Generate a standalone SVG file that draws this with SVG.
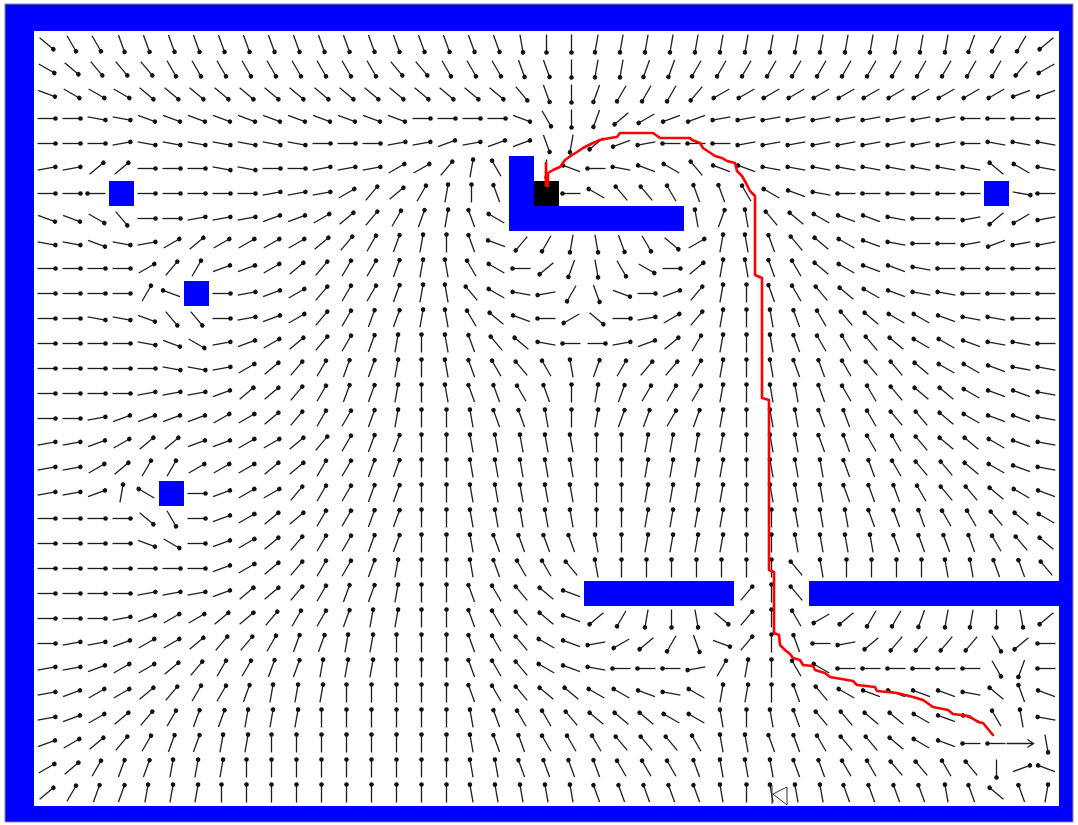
<svg xmlns="http://www.w3.org/2000/svg" width="1078" height="825" viewBox="0 0 1078 825">
<style>
.ob{fill:#0000ff}
.rp{fill:none;stroke:#ff0000;stroke-width:2.6;stroke-linejoin:round;stroke-linecap:round}
</style>
<defs>
<g id="v"><path d="M-9 0H9" stroke="#1e1e1e" stroke-width="1.3"/><circle cx="9" r="2.3" fill="#111"/></g>
<use id="a0" href="#v"/><use id="a1" href="#v" transform="rotate(10)"/><use id="a2" href="#v" transform="rotate(20)"/><use id="a3" href="#v" transform="rotate(30)"/><use id="a4" href="#v" transform="rotate(40)"/><use id="a5" href="#v" transform="rotate(50)"/><use id="a6" href="#v" transform="rotate(60)"/><use id="a7" href="#v" transform="rotate(70)"/><use id="a8" href="#v" transform="rotate(80)"/><use id="a9" href="#v" transform="rotate(90)"/><use id="a10" href="#v" transform="rotate(100)"/><use id="a11" href="#v" transform="rotate(110)"/><use id="a12" href="#v" transform="rotate(120)"/><use id="a13" href="#v" transform="rotate(130)"/><use id="a14" href="#v" transform="rotate(140)"/><use id="a15" href="#v" transform="rotate(150)"/><use id="a16" href="#v" transform="rotate(160)"/><use id="a17" href="#v" transform="rotate(170)"/><use id="a18" href="#v" transform="rotate(180)"/><use id="a19" href="#v" transform="rotate(190)"/><use id="a20" href="#v" transform="rotate(200)"/><use id="a21" href="#v" transform="rotate(210)"/><use id="a22" href="#v" transform="rotate(220)"/><use id="a23" href="#v" transform="rotate(230)"/><use id="a24" href="#v" transform="rotate(240)"/><use id="a25" href="#v" transform="rotate(250)"/><use id="a26" href="#v" transform="rotate(260)"/><use id="a27" href="#v" transform="rotate(270)"/><use id="a28" href="#v" transform="rotate(280)"/><use id="a29" href="#v" transform="rotate(290)"/><use id="a30" href="#v" transform="rotate(300)"/><use id="a31" href="#v" transform="rotate(310)"/><use id="a32" href="#v" transform="rotate(320)"/><use id="a33" href="#v" transform="rotate(330)"/><use id="a34" href="#v" transform="rotate(340)"/><use id="a35" href="#v" transform="rotate(350)"/>
</defs>
<rect width="1078" height="825" fill="#fff"/>
<rect x="5" y="4" width="1068" height="818" fill="#0000ff" stroke="#8a8a8a" stroke-width="1"/>
<rect x="34" y="31" width="1025" height="775" fill="#fff"/>
<g id="field">
<g transform="translate(.5 43.5)"><use href="#a4" x="46"/><use href="#a6" x="71"/><use href="#a6" x="96"/><use href="#a7" x="121"/><use href="#a7" x="146"/><use href="#a7" x="171"/><use href="#a7" x="196"/><use href="#a7" x="221"/><use href="#a7" x="246"/><use href="#a7" x="271"/><use href="#a7" x="296"/><use href="#a7" x="321"/><use href="#a7" x="346"/><use href="#a7" x="371"/><use href="#a7" x="396"/><use href="#a7" x="421"/><use href="#a7" x="446"/><use href="#a7" x="471"/><use href="#a7" x="496"/><use href="#a8" x="521"/><use href="#a9" x="546"/><use href="#a9" x="571"/><use href="#a10" x="596"/><use href="#a10" x="621"/><use href="#a10" x="646"/><use href="#a10" x="671"/><use href="#a10" x="696"/><use href="#a10" x="721"/><use href="#a10" x="746"/><use href="#a10" x="771"/><use href="#a10" x="796"/><use href="#a10" x="821"/><use href="#a10" x="846"/><use href="#a10" x="871"/><use href="#a10" x="896"/><use href="#a10" x="921"/><use href="#a10" x="946"/><use href="#a11" x="971"/><use href="#a12" x="996"/><use href="#a12" x="1021"/><use href="#a14" x="1046"/></g>
<g transform="translate(.5 68.5)"><use href="#a3" x="46"/><use href="#a4" x="71"/><use href="#a5" x="96"/><use href="#a5" x="121"/><use href="#a5" x="146"/><use href="#a6" x="171"/><use href="#a6" x="196"/><use href="#a6" x="221"/><use href="#a6" x="246"/><use href="#a6" x="271"/><use href="#a6" x="296"/><use href="#a6" x="321"/><use href="#a6" x="346"/><use href="#a6" x="371"/><use href="#a5" x="396"/><use href="#a5" x="421"/><use href="#a6" x="446"/><use href="#a6" x="471"/><use href="#a6" x="496"/><use href="#a7" x="521"/><use href="#a7" x="546"/><use href="#a9" x="571"/><use href="#a10" x="596"/><use href="#a10" x="621"/><use href="#a11" x="646"/><use href="#a11" x="671"/><use href="#a12" x="696"/><use href="#a12" x="721"/><use href="#a12" x="746"/><use href="#a12" x="771"/><use href="#a12" x="796"/><use href="#a12" x="821"/><use href="#a12" x="846"/><use href="#a12" x="871"/><use href="#a12" x="896"/><use href="#a12" x="921"/><use href="#a12" x="946"/><use href="#a12" x="971"/><use href="#a12" x="996"/><use href="#a13" x="1021"/><use href="#a15" x="1046"/></g>
<g transform="translate(.5 93.5)"><use href="#a2" x="46"/><use href="#a3" x="71"/><use href="#a3" x="96"/><use href="#a3" x="121"/><use href="#a4" x="146"/><use href="#a4" x="171"/><use href="#a4" x="196"/><use href="#a4" x="221"/><use href="#a4" x="246"/><use href="#a4" x="271"/><use href="#a4" x="296"/><use href="#a4" x="321"/><use href="#a4" x="346"/><use href="#a4" x="371"/><use href="#a4" x="396"/><use href="#a4" x="421"/><use href="#a4" x="446"/><use href="#a4" x="471"/><use href="#a4" x="496"/><use href="#a5" x="521"/><use href="#a7" x="546"/><use href="#a9" x="571"/><use href="#a11" x="596"/><use href="#a12" x="621"/><use href="#a12" x="646"/><use href="#a12" x="671"/><use href="#a13" x="696"/><use href="#a15" x="721"/><use href="#a15" x="746"/><use href="#a15" x="771"/><use href="#a15" x="796"/><use href="#a15" x="821"/><use href="#a15" x="846"/><use href="#a15" x="871"/><use href="#a15" x="896"/><use href="#a15" x="921"/><use href="#a15" x="946"/><use href="#a15" x="971"/><use href="#a15" x="996"/><use href="#a16" x="1021"/><use href="#a16" x="1046"/></g>
<g transform="translate(.5 118.5)"><use href="#a0" x="46"/><use href="#a0" x="71"/><use href="#a1" x="96"/><use href="#a1" x="121"/><use href="#a2" x="146"/><use href="#a2" x="171"/><use href="#a2" x="196"/><use href="#a2" x="221"/><use href="#a2" x="246"/><use href="#a2" x="271"/><use href="#a2" x="296"/><use href="#a2" x="321"/><use href="#a2" x="346"/><use href="#a2" x="371"/><use href="#a2" x="396"/><use href="#a0" x="421"/><use href="#a0" x="446"/><use href="#a0" x="471"/><use href="#a0" x="496"/><use href="#a2" x="521"/><use href="#a6" x="546"/><use href="#a9" x="571"/><use href="#a11" x="596"/><use href="#a14" x="621"/><use href="#a15" x="646"/><use href="#a16" x="671"/><use href="#a16" x="696"/><use href="#a17" x="721"/><use href="#a17" x="746"/><use href="#a17" x="771"/><use href="#a17" x="796"/><use href="#a17" x="821"/><use href="#a17" x="846"/><use href="#a17" x="871"/><use href="#a17" x="896"/><use href="#a17" x="921"/><use href="#a17" x="946"/><use href="#a18" x="971"/><use href="#a18" x="996"/><use href="#a18" x="1021"/><use href="#a18" x="1046"/></g>
<g transform="translate(.5 143.5)"><use href="#a0" x="46"/><use href="#a0" x="71"/><use href="#a0" x="96"/><use href="#a35" x="121"/><use href="#a1" x="146"/><use href="#a1" x="171"/><use href="#a1" x="196"/><use href="#a1" x="221"/><use href="#a1" x="246"/><use href="#a1" x="271"/><use href="#a1" x="296"/><use href="#a0" x="321"/><use href="#a0" x="346"/><use href="#a0" x="371"/><use href="#a35" x="396"/><use href="#a35" x="421"/><use href="#a34" x="446"/><use href="#a35" x="471"/><use href="#a34" x="496"/><use href="#a34" x="521"/><use href="#a7" x="546"/><use href="#a10" x="571"/><use href="#a14" x="596"/><use href="#a16" x="621"/><use href="#a17" x="646"/><use href="#a18" x="671"/><use href="#a18" x="696"/><use href="#a18" x="721"/><use href="#a17" x="746"/><use href="#a17" x="771"/><use href="#a17" x="796"/><use href="#a17" x="821"/><use href="#a17" x="846"/><use href="#a17" x="871"/><use href="#a17" x="896"/><use href="#a17" x="921"/><use href="#a17" x="946"/><use href="#a18" x="971"/><use href="#a19" x="996"/><use href="#a19" x="1021"/><use href="#a19" x="1046"/></g>
<g transform="translate(.5 168.5)"><use href="#a35" x="46"/><use href="#a35" x="71"/><use href="#a32" x="96"/><use href="#a32" x="121"/><use href="#a0" x="146"/><use href="#a0" x="171"/><use href="#a0" x="196"/><use href="#a1" x="221"/><use href="#a1" x="246"/><use href="#a0" x="271"/><use href="#a0" x="296"/><use href="#a35" x="321"/><use href="#a35" x="346"/><use href="#a35" x="371"/><use href="#a33" x="396"/><use href="#a33" x="421"/><use href="#a31" x="446"/><use href="#a28" x="471"/><use href="#a24" x="496"/><use href="#a9" x="546"/><use href="#a20" x="571"/><use href="#a18" x="596"/><use href="#a19" x="621"/><use href="#a20" x="646"/><use href="#a21" x="671"/><use href="#a23" x="696"/><use href="#a20" x="721"/><use href="#a20" x="746"/><use href="#a19" x="771"/><use href="#a19" x="796"/><use href="#a19" x="821"/><use href="#a19" x="846"/><use href="#a19" x="871"/><use href="#a19" x="896"/><use href="#a19" x="921"/><use href="#a19" x="946"/><use href="#a19" x="971"/><use href="#a22" x="996"/><use href="#a21" x="1021"/><use href="#a19" x="1046"/></g>
<g transform="translate(.5 193.5)"><use href="#a0" x="46"/><use href="#a0" x="71"/><use href="#a18" x="96"/><use href="#a0" x="146"/><use href="#a0" x="171"/><use href="#a0" x="196"/><use href="#a0" x="221"/><use href="#a0" x="246"/><use href="#a35" x="271"/><use href="#a35" x="296"/><use href="#a35" x="321"/><use href="#a33" x="346"/><use href="#a31" x="371"/><use href="#a32" x="396"/><use href="#a30" x="421"/><use href="#a28" x="446"/><use href="#a27" x="471"/><use href="#a25" x="496"/><use href="#a18" x="571"/><use href="#a21" x="596"/><use href="#a23" x="621"/><use href="#a23" x="646"/><use href="#a24" x="671"/><use href="#a25" x="696"/><use href="#a25" x="721"/><use href="#a24" x="746"/><use href="#a21" x="771"/><use href="#a20" x="796"/><use href="#a19" x="821"/><use href="#a18" x="846"/><use href="#a18" x="871"/><use href="#a18" x="896"/><use href="#a18" x="921"/><use href="#a18" x="946"/><use href="#a18" x="971"/><use href="#a1" x="1021"/><use href="#a18" x="1046"/></g>
<g transform="translate(.5 218.5)"><use href="#a2" x="46"/><use href="#a2" x="71"/><use href="#a3" x="96"/><use href="#a5" x="121"/><use href="#a0" x="146"/><use href="#a0" x="171"/><use href="#a35" x="196"/><use href="#a35" x="221"/><use href="#a35" x="246"/><use href="#a34" x="271"/><use href="#a34" x="296"/><use href="#a33" x="321"/><use href="#a32" x="346"/><use href="#a31" x="371"/><use href="#a30" x="396"/><use href="#a29" x="421"/><use href="#a28" x="446"/><use href="#a25" x="471"/><use href="#a21" x="496"/><use href="#a26" x="696"/><use href="#a29" x="721"/><use href="#a26" x="746"/><use href="#a23" x="771"/><use href="#a22" x="796"/><use href="#a21" x="821"/><use href="#a20" x="846"/><use href="#a20" x="871"/><use href="#a19" x="896"/><use href="#a18" x="921"/><use href="#a18" x="946"/><use href="#a17" x="971"/><use href="#a14" x="996"/><use href="#a15" x="1021"/><use href="#a17" x="1046"/></g>
<g transform="translate(.5 243.5)"><use href="#a1" x="46"/><use href="#a1" x="71"/><use href="#a2" x="96"/><use href="#a1" x="121"/><use href="#a35" x="146"/><use href="#a33" x="171"/><use href="#a32" x="196"/><use href="#a33" x="221"/><use href="#a33" x="246"/><use href="#a33" x="271"/><use href="#a33" x="296"/><use href="#a32" x="321"/><use href="#a31" x="346"/><use href="#a30" x="371"/><use href="#a29" x="396"/><use href="#a28" x="421"/><use href="#a27" x="446"/><use href="#a25" x="471"/><use href="#a20" x="496"/><use href="#a13" x="521"/><use href="#a12" x="546"/><use href="#a10" x="571"/><use href="#a8" x="596"/><use href="#a7" x="621"/><use href="#a6" x="646"/><use href="#a4" x="671"/><use href="#a33" x="696"/><use href="#a28" x="721"/><use href="#a26" x="746"/><use href="#a25" x="771"/><use href="#a23" x="796"/><use href="#a22" x="821"/><use href="#a21" x="846"/><use href="#a20" x="871"/><use href="#a19" x="896"/><use href="#a18" x="921"/><use href="#a18" x="946"/><use href="#a17" x="971"/><use href="#a16" x="996"/><use href="#a17" x="1021"/><use href="#a17" x="1046"/></g>
<g transform="translate(.5 268.5)"><use href="#a0" x="46"/><use href="#a0" x="71"/><use href="#a0" x="96"/><use href="#a0" x="121"/><use href="#a33" x="146"/><use href="#a31" x="171"/><use href="#a30" x="196"/><use href="#a34" x="221"/><use href="#a34" x="246"/><use href="#a33" x="271"/><use href="#a32" x="296"/><use href="#a31" x="321"/><use href="#a30" x="346"/><use href="#a30" x="371"/><use href="#a29" x="396"/><use href="#a28" x="421"/><use href="#a26" x="446"/><use href="#a24" x="471"/><use href="#a21" x="496"/><use href="#a18" x="521"/><use href="#a14" x="546"/><use href="#a11" x="571"/><use href="#a8" x="596"/><use href="#a6" x="621"/><use href="#a3" x="646"/><use href="#a0" x="671"/><use href="#a32" x="696"/><use href="#a28" x="721"/><use href="#a26" x="746"/><use href="#a25" x="771"/><use href="#a24" x="796"/><use href="#a22" x="821"/><use href="#a21" x="846"/><use href="#a20" x="871"/><use href="#a20" x="896"/><use href="#a19" x="921"/><use href="#a18" x="946"/><use href="#a18" x="971"/><use href="#a18" x="996"/><use href="#a18" x="1021"/><use href="#a18" x="1046"/></g>
<g transform="translate(.5 293.5)"><use href="#a0" x="46"/><use href="#a0" x="71"/><use href="#a0" x="96"/><use href="#a0" x="121"/><use href="#a30" x="146"/><use href="#a20" x="171"/><use href="#a0" x="221"/><use href="#a35" x="246"/><use href="#a34" x="271"/><use href="#a33" x="296"/><use href="#a31" x="321"/><use href="#a30" x="346"/><use href="#a30" x="371"/><use href="#a29" x="396"/><use href="#a28" x="421"/><use href="#a26" x="446"/><use href="#a23" x="471"/><use href="#a21" x="496"/><use href="#a19" x="521"/><use href="#a17" x="546"/><use href="#a12" x="571"/><use href="#a7" x="596"/><use href="#a2" x="621"/><use href="#a0" x="646"/><use href="#a34" x="671"/><use href="#a31" x="696"/><use href="#a28" x="721"/><use href="#a27" x="746"/><use href="#a25" x="771"/><use href="#a24" x="796"/><use href="#a23" x="821"/><use href="#a22" x="846"/><use href="#a21" x="871"/><use href="#a20" x="896"/><use href="#a19" x="921"/><use href="#a19" x="946"/><use href="#a18" x="971"/><use href="#a18" x="996"/><use href="#a18" x="1021"/><use href="#a18" x="1046"/></g>
<g transform="translate(.5 318.5)"><use href="#a0" x="46"/><use href="#a0" x="71"/><use href="#a1" x="96"/><use href="#a1" x="121"/><use href="#a2" x="146"/><use href="#a5" x="171"/><use href="#a5" x="196"/><use href="#a0" x="221"/><use href="#a35" x="246"/><use href="#a34" x="271"/><use href="#a33" x="296"/><use href="#a31" x="321"/><use href="#a30" x="346"/><use href="#a29" x="371"/><use href="#a29" x="396"/><use href="#a28" x="421"/><use href="#a26" x="446"/><use href="#a24" x="471"/><use href="#a22" x="496"/><use href="#a20" x="521"/><use href="#a18" x="546"/><use href="#a15" x="571"/><use href="#a4" x="596"/><use href="#a0" x="621"/><use href="#a35" x="646"/><use href="#a33" x="671"/><use href="#a31" x="696"/><use href="#a28" x="721"/><use href="#a27" x="746"/><use href="#a26" x="771"/><use href="#a25" x="796"/><use href="#a24" x="821"/><use href="#a23" x="846"/><use href="#a22" x="871"/><use href="#a21" x="896"/><use href="#a21" x="921"/><use href="#a20" x="946"/><use href="#a19" x="971"/><use href="#a19" x="996"/><use href="#a18" x="1021"/><use href="#a18" x="1046"/></g>
<g transform="translate(.5 343.5)"><use href="#a0" x="46"/><use href="#a0" x="71"/><use href="#a0" x="96"/><use href="#a0" x="121"/><use href="#a1" x="146"/><use href="#a2" x="171"/><use href="#a3" x="196"/><use href="#a35" x="221"/><use href="#a34" x="246"/><use href="#a33" x="271"/><use href="#a32" x="296"/><use href="#a31" x="321"/><use href="#a30" x="346"/><use href="#a29" x="371"/><use href="#a28" x="396"/><use href="#a27" x="421"/><use href="#a26" x="446"/><use href="#a25" x="471"/><use href="#a23" x="496"/><use href="#a22" x="521"/><use href="#a19" x="546"/><use href="#a18" x="571"/><use href="#a0" x="596"/><use href="#a35" x="621"/><use href="#a34" x="646"/><use href="#a32" x="671"/><use href="#a30" x="696"/><use href="#a28" x="721"/><use href="#a27" x="746"/><use href="#a26" x="771"/><use href="#a25" x="796"/><use href="#a24" x="821"/><use href="#a24" x="846"/><use href="#a23" x="871"/><use href="#a22" x="896"/><use href="#a21" x="921"/><use href="#a21" x="946"/><use href="#a20" x="971"/><use href="#a19" x="996"/><use href="#a19" x="1021"/><use href="#a18" x="1046"/></g>
<g transform="translate(.5 368.5)"><use href="#a0" x="46"/><use href="#a0" x="71"/><use href="#a0" x="96"/><use href="#a0" x="121"/><use href="#a0" x="146"/><use href="#a1" x="171"/><use href="#a1" x="196"/><use href="#a35" x="221"/><use href="#a33" x="246"/><use href="#a32" x="271"/><use href="#a31" x="296"/><use href="#a30" x="321"/><use href="#a29" x="346"/><use href="#a29" x="371"/><use href="#a28" x="396"/><use href="#a27" x="421"/><use href="#a26" x="446"/><use href="#a25" x="471"/><use href="#a24" x="496"/><use href="#a23" x="521"/><use href="#a24" x="546"/><use href="#a26" x="571"/><use href="#a29" x="596"/><use href="#a30" x="621"/><use href="#a31" x="646"/><use href="#a31" x="671"/><use href="#a30" x="696"/><use href="#a28" x="721"/><use href="#a27" x="746"/><use href="#a26" x="771"/><use href="#a25" x="796"/><use href="#a25" x="821"/><use href="#a24" x="846"/><use href="#a23" x="871"/><use href="#a23" x="896"/><use href="#a22" x="921"/><use href="#a21" x="946"/><use href="#a21" x="971"/><use href="#a20" x="996"/><use href="#a19" x="1021"/><use href="#a19" x="1046"/></g>
<g transform="translate(.5 393.5)"><use href="#a0" x="46"/><use href="#a0" x="71"/><use href="#a0" x="96"/><use href="#a0" x="121"/><use href="#a35" x="146"/><use href="#a35" x="171"/><use href="#a35" x="196"/><use href="#a34" x="221"/><use href="#a32" x="246"/><use href="#a32" x="271"/><use href="#a31" x="296"/><use href="#a30" x="321"/><use href="#a29" x="346"/><use href="#a29" x="371"/><use href="#a28" x="396"/><use href="#a27" x="421"/><use href="#a26" x="446"/><use href="#a25" x="471"/><use href="#a25" x="496"/><use href="#a24" x="521"/><use href="#a25" x="546"/><use href="#a27" x="571"/><use href="#a28" x="596"/><use href="#a29" x="621"/><use href="#a30" x="646"/><use href="#a30" x="671"/><use href="#a30" x="696"/><use href="#a28" x="721"/><use href="#a27" x="746"/><use href="#a26" x="771"/><use href="#a26" x="796"/><use href="#a25" x="821"/><use href="#a24" x="846"/><use href="#a24" x="871"/><use href="#a23" x="896"/><use href="#a22" x="921"/><use href="#a22" x="946"/><use href="#a21" x="971"/><use href="#a20" x="996"/><use href="#a20" x="1021"/><use href="#a19" x="1046"/></g>
<g transform="translate(.5 418.5)"><use href="#a0" x="46"/><use href="#a0" x="71"/><use href="#a35" x="96"/><use href="#a34" x="121"/><use href="#a34" x="146"/><use href="#a34" x="171"/><use href="#a34" x="196"/><use href="#a33" x="221"/><use href="#a33" x="246"/><use href="#a32" x="271"/><use href="#a31" x="296"/><use href="#a30" x="321"/><use href="#a30" x="346"/><use href="#a29" x="371"/><use href="#a28" x="396"/><use href="#a27" x="421"/><use href="#a27" x="446"/><use href="#a26" x="471"/><use href="#a25" x="496"/><use href="#a25" x="521"/><use href="#a26" x="546"/><use href="#a27" x="571"/><use href="#a28" x="596"/><use href="#a29" x="621"/><use href="#a29" x="646"/><use href="#a30" x="671"/><use href="#a29" x="696"/><use href="#a28" x="721"/><use href="#a27" x="746"/><use href="#a26" x="771"/><use href="#a26" x="796"/><use href="#a25" x="821"/><use href="#a25" x="846"/><use href="#a24" x="871"/><use href="#a23" x="896"/><use href="#a23" x="921"/><use href="#a22" x="946"/><use href="#a21" x="971"/><use href="#a20" x="996"/><use href="#a20" x="1021"/><use href="#a19" x="1046"/></g>
<g transform="translate(.5 443.5)"><use href="#a35" x="46"/><use href="#a35" x="71"/><use href="#a34" x="96"/><use href="#a33" x="121"/><use href="#a32" x="146"/><use href="#a32" x="171"/><use href="#a34" x="196"/><use href="#a34" x="221"/><use href="#a33" x="246"/><use href="#a33" x="271"/><use href="#a32" x="296"/><use href="#a31" x="321"/><use href="#a30" x="346"/><use href="#a29" x="371"/><use href="#a29" x="396"/><use href="#a27" x="421"/><use href="#a27" x="446"/><use href="#a26" x="471"/><use href="#a26" x="496"/><use href="#a26" x="521"/><use href="#a26" x="546"/><use href="#a26" x="571"/><use href="#a27" x="596"/><use href="#a27" x="621"/><use href="#a28" x="646"/><use href="#a28" x="671"/><use href="#a28" x="696"/><use href="#a28" x="721"/><use href="#a27" x="746"/><use href="#a26" x="771"/><use href="#a26" x="796"/><use href="#a25" x="821"/><use href="#a25" x="846"/><use href="#a24" x="871"/><use href="#a24" x="896"/><use href="#a23" x="921"/><use href="#a22" x="946"/><use href="#a22" x="971"/><use href="#a21" x="996"/><use href="#a20" x="1021"/><use href="#a19" x="1046"/></g>
<g transform="translate(.5 468.5)"><use href="#a35" x="46"/><use href="#a35" x="71"/><use href="#a33" x="96"/><use href="#a32" x="121"/><use href="#a30" x="146"/><use href="#a30" x="171"/><use href="#a33" x="196"/><use href="#a33" x="221"/><use href="#a33" x="246"/><use href="#a32" x="271"/><use href="#a32" x="296"/><use href="#a30" x="321"/><use href="#a30" x="346"/><use href="#a29" x="371"/><use href="#a29" x="396"/><use href="#a27" x="421"/><use href="#a27" x="446"/><use href="#a26" x="471"/><use href="#a26" x="496"/><use href="#a26" x="521"/><use href="#a26" x="546"/><use href="#a26" x="571"/><use href="#a27" x="596"/><use href="#a27" x="621"/><use href="#a28" x="646"/><use href="#a28" x="671"/><use href="#a28" x="696"/><use href="#a28" x="721"/><use href="#a27" x="746"/><use href="#a26" x="771"/><use href="#a26" x="796"/><use href="#a26" x="821"/><use href="#a25" x="846"/><use href="#a25" x="871"/><use href="#a24" x="896"/><use href="#a23" x="921"/><use href="#a23" x="946"/><use href="#a22" x="971"/><use href="#a21" x="996"/><use href="#a20" x="1021"/><use href="#a19" x="1046"/></g>
<g transform="translate(.5 493.5)"><use href="#a35" x="46"/><use href="#a35" x="71"/><use href="#a34" x="96"/><use href="#a28" x="121"/><use href="#a21" x="146"/><use href="#a0" x="196"/><use href="#a34" x="221"/><use href="#a33" x="246"/><use href="#a33" x="271"/><use href="#a31" x="296"/><use href="#a30" x="321"/><use href="#a30" x="346"/><use href="#a29" x="371"/><use href="#a29" x="396"/><use href="#a27" x="421"/><use href="#a27" x="446"/><use href="#a26" x="471"/><use href="#a26" x="496"/><use href="#a26" x="521"/><use href="#a26" x="546"/><use href="#a26" x="571"/><use href="#a27" x="596"/><use href="#a27" x="621"/><use href="#a28" x="646"/><use href="#a28" x="671"/><use href="#a28" x="696"/><use href="#a28" x="721"/><use href="#a27" x="746"/><use href="#a26" x="771"/><use href="#a26" x="796"/><use href="#a26" x="821"/><use href="#a25" x="846"/><use href="#a25" x="871"/><use href="#a25" x="896"/><use href="#a24" x="921"/><use href="#a23" x="946"/><use href="#a23" x="971"/><use href="#a22" x="996"/><use href="#a21" x="1021"/><use href="#a20" x="1046"/></g>
<g transform="translate(.5 518.5)"><use href="#a0" x="46"/><use href="#a0" x="71"/><use href="#a0" x="96"/><use href="#a0" x="121"/><use href="#a4" x="146"/><use href="#a6" x="171"/><use href="#a0" x="196"/><use href="#a34" x="221"/><use href="#a33" x="246"/><use href="#a32" x="271"/><use href="#a32" x="296"/><use href="#a30" x="321"/><use href="#a30" x="346"/><use href="#a29" x="371"/><use href="#a29" x="396"/><use href="#a27" x="421"/><use href="#a27" x="446"/><use href="#a26" x="471"/><use href="#a26" x="496"/><use href="#a26" x="521"/><use href="#a26" x="546"/><use href="#a26" x="571"/><use href="#a27" x="596"/><use href="#a27" x="621"/><use href="#a28" x="646"/><use href="#a28" x="671"/><use href="#a28" x="696"/><use href="#a28" x="721"/><use href="#a27" x="746"/><use href="#a27" x="771"/><use href="#a26" x="796"/><use href="#a26" x="821"/><use href="#a26" x="846"/><use href="#a25" x="871"/><use href="#a25" x="896"/><use href="#a25" x="921"/><use href="#a24" x="946"/><use href="#a24" x="971"/><use href="#a23" x="996"/><use href="#a22" x="1021"/><use href="#a21" x="1046"/></g>
<g transform="translate(.5 543.5)"><use href="#a0" x="46"/><use href="#a0" x="71"/><use href="#a0" x="96"/><use href="#a0" x="121"/><use href="#a2" x="146"/><use href="#a3" x="171"/><use href="#a0" x="196"/><use href="#a34" x="221"/><use href="#a33" x="246"/><use href="#a32" x="271"/><use href="#a31" x="296"/><use href="#a30" x="321"/><use href="#a30" x="346"/><use href="#a29" x="371"/><use href="#a29" x="396"/><use href="#a27" x="421"/><use href="#a27" x="446"/><use href="#a26" x="471"/><use href="#a25" x="496"/><use href="#a25" x="521"/><use href="#a25" x="546"/><use href="#a25" x="571"/><use href="#a26" x="596"/><use href="#a27" x="621"/><use href="#a28" x="646"/><use href="#a28" x="671"/><use href="#a28" x="696"/><use href="#a28" x="721"/><use href="#a27" x="746"/><use href="#a27" x="771"/><use href="#a26" x="796"/><use href="#a26" x="821"/><use href="#a26" x="846"/><use href="#a26" x="871"/><use href="#a25" x="896"/><use href="#a25" x="921"/><use href="#a25" x="946"/><use href="#a25" x="971"/><use href="#a24" x="996"/><use href="#a23" x="1021"/><use href="#a22" x="1046"/></g>
<g transform="translate(.5 568.5)"><use href="#a0" x="46"/><use href="#a0" x="71"/><use href="#a0" x="96"/><use href="#a0" x="121"/><use href="#a0" x="146"/><use href="#a0" x="171"/><use href="#a0" x="196"/><use href="#a34" x="221"/><use href="#a33" x="246"/><use href="#a32" x="271"/><use href="#a31" x="296"/><use href="#a30" x="321"/><use href="#a30" x="346"/><use href="#a29" x="371"/><use href="#a28" x="396"/><use href="#a27" x="421"/><use href="#a27" x="446"/><use href="#a26" x="471"/><use href="#a25" x="496"/><use href="#a24" x="521"/><use href="#a24" x="546"/><use href="#a23" x="571"/><use href="#a26" x="596"/><use href="#a27" x="621"/><use href="#a27" x="646"/><use href="#a27" x="671"/><use href="#a27" x="696"/><use href="#a27" x="721"/><use href="#a27" x="746"/><use href="#a27" x="771"/><use href="#a23" x="796"/><use href="#a26" x="821"/><use href="#a27" x="846"/><use href="#a27" x="871"/><use href="#a27" x="896"/><use href="#a27" x="921"/><use href="#a26" x="946"/><use href="#a26" x="971"/><use href="#a25" x="996"/><use href="#a25" x="1021"/><use href="#a23" x="1046"/></g>
<g transform="translate(.5 593.5)"><use href="#a0" x="46"/><use href="#a0" x="71"/><use href="#a0" x="96"/><use href="#a0" x="121"/><use href="#a35" x="146"/><use href="#a35" x="171"/><use href="#a35" x="196"/><use href="#a34" x="221"/><use href="#a32" x="246"/><use href="#a32" x="271"/><use href="#a31" x="296"/><use href="#a30" x="321"/><use href="#a29" x="346"/><use href="#a29" x="371"/><use href="#a28" x="396"/><use href="#a27" x="421"/><use href="#a27" x="446"/><use href="#a25" x="471"/><use href="#a24" x="496"/><use href="#a23" x="521"/><use href="#a22" x="546"/><use href="#a20" x="571"/><use href="#a31" x="746"/><use href="#a27" x="771"/><use href="#a23" x="796"/></g>
<g transform="translate(.5 618.5)"><use href="#a0" x="46"/><use href="#a0" x="71"/><use href="#a0" x="96"/><use href="#a35" x="121"/><use href="#a34" x="146"/><use href="#a33" x="171"/><use href="#a33" x="196"/><use href="#a32" x="221"/><use href="#a32" x="246"/><use href="#a31" x="271"/><use href="#a30" x="296"/><use href="#a30" x="321"/><use href="#a29" x="346"/><use href="#a28" x="371"/><use href="#a28" x="396"/><use href="#a27" x="421"/><use href="#a27" x="446"/><use href="#a25" x="471"/><use href="#a24" x="496"/><use href="#a23" x="521"/><use href="#a22" x="546"/><use href="#a20" x="571"/><use href="#a14" x="596"/><use href="#a12" x="621"/><use href="#a10" x="646"/><use href="#a9" x="671"/><use href="#a8" x="696"/><use href="#a4" x="721"/><use href="#a31" x="746"/><use href="#a27" x="771"/><use href="#a24" x="796"/><use href="#a15" x="821"/><use href="#a14" x="846"/><use href="#a12" x="871"/><use href="#a12" x="896"/><use href="#a11" x="921"/><use href="#a10" x="946"/><use href="#a10" x="971"/><use href="#a9" x="996"/><use href="#a8" x="1021"/><use href="#a14" x="1046"/></g>
<g transform="translate(.5 643.5)"><use href="#a0" x="46"/><use href="#a35" x="71"/><use href="#a35" x="96"/><use href="#a34" x="121"/><use href="#a33" x="146"/><use href="#a33" x="171"/><use href="#a32" x="196"/><use href="#a31" x="221"/><use href="#a31" x="246"/><use href="#a30" x="271"/><use href="#a29" x="296"/><use href="#a29" x="321"/><use href="#a28" x="346"/><use href="#a28" x="371"/><use href="#a27" x="396"/><use href="#a27" x="421"/><use href="#a27" x="446"/><use href="#a25" x="471"/><use href="#a24" x="496"/><use href="#a23" x="521"/><use href="#a21" x="546"/><use href="#a20" x="571"/><use href="#a17" x="596"/><use href="#a15" x="621"/><use href="#a14" x="646"/><use href="#a12" x="671"/><use href="#a7" x="696"/><use href="#a2" x="721"/><use href="#a31" x="746"/><use href="#a27" x="771"/><use href="#a25" x="796"/><use href="#a18" x="821"/><use href="#a17" x="846"/><use href="#a14" x="871"/><use href="#a13" x="896"/><use href="#a13" x="921"/><use href="#a13" x="946"/><use href="#a13" x="971"/><use href="#a6" x="996"/><use href="#a14" x="1021"/><use href="#a18" x="1046"/></g>
<g transform="translate(.5 668.5)"><use href="#a35" x="46"/><use href="#a35" x="71"/><use href="#a34" x="96"/><use href="#a33" x="121"/><use href="#a33" x="146"/><use href="#a32" x="171"/><use href="#a31" x="196"/><use href="#a30" x="221"/><use href="#a30" x="246"/><use href="#a29" x="271"/><use href="#a29" x="296"/><use href="#a28" x="321"/><use href="#a28" x="346"/><use href="#a28" x="371"/><use href="#a27" x="396"/><use href="#a27" x="421"/><use href="#a27" x="446"/><use href="#a25" x="471"/><use href="#a24" x="496"/><use href="#a23" x="521"/><use href="#a21" x="546"/><use href="#a20" x="571"/><use href="#a19" x="596"/><use href="#a18" x="621"/><use href="#a18" x="646"/><use href="#a18" x="671"/><use href="#a17" x="696"/><use href="#a30" x="721"/><use href="#a28" x="746"/><use href="#a27" x="771"/><use href="#a24" x="796"/><use href="#a21" x="821"/><use href="#a18" x="846"/><use href="#a18" x="871"/><use href="#a18" x="896"/><use href="#a18" x="921"/><use href="#a18" x="946"/><use href="#a18" x="971"/><use href="#a6" x="996"/><use href="#a11" x="1021"/><use href="#a18" x="1046"/></g>
<g transform="translate(.5 693.5)"><use href="#a35" x="46"/><use href="#a34" x="71"/><use href="#a33" x="96"/><use href="#a33" x="121"/><use href="#a32" x="146"/><use href="#a31" x="171"/><use href="#a30" x="196"/><use href="#a30" x="221"/><use href="#a29" x="246"/><use href="#a28" x="271"/><use href="#a28" x="296"/><use href="#a28" x="321"/><use href="#a27" x="346"/><use href="#a27" x="371"/><use href="#a27" x="396"/><use href="#a27" x="421"/><use href="#a27" x="446"/><use href="#a25" x="471"/><use href="#a24" x="496"/><use href="#a23" x="521"/><use href="#a22" x="546"/><use href="#a22" x="571"/><use href="#a21" x="596"/><use href="#a21" x="621"/><use href="#a20" x="646"/><use href="#a19" x="671"/><use href="#a21" x="696"/><use href="#a28" x="721"/><use href="#a28" x="746"/><use href="#a27" x="771"/><use href="#a25" x="796"/><use href="#a23" x="821"/><use href="#a21" x="846"/><use href="#a20" x="871"/><use href="#a20" x="896"/><use href="#a20" x="921"/><use href="#a20" x="946"/><use href="#a19" x="971"/><use href="#a22" x="996"/><use href="#a25" x="1021"/><use href="#a20" x="1046"/></g>
<g transform="translate(.5 718.5)"><use href="#a35" x="46"/><use href="#a34" x="71"/><use href="#a33" x="96"/><use href="#a32" x="121"/><use href="#a31" x="146"/><use href="#a30" x="171"/><use href="#a29" x="196"/><use href="#a29" x="221"/><use href="#a28" x="246"/><use href="#a28" x="271"/><use href="#a28" x="296"/><use href="#a27" x="321"/><use href="#a27" x="346"/><use href="#a27" x="371"/><use href="#a27" x="396"/><use href="#a27" x="421"/><use href="#a27" x="446"/><use href="#a26" x="471"/><use href="#a25" x="496"/><use href="#a24" x="521"/><use href="#a24" x="546"/><use href="#a23" x="571"/><use href="#a22" x="596"/><use href="#a22" x="621"/><use href="#a22" x="646"/><use href="#a21" x="671"/><use href="#a21" x="696"/><use href="#a26" x="721"/><use href="#a27" x="746"/><use href="#a26" x="771"/><use href="#a25" x="796"/><use href="#a23" x="821"/><use href="#a23" x="846"/><use href="#a22" x="871"/><use href="#a22" x="896"/><use href="#a21" x="921"/><use href="#a20" x="946"/><use href="#a20" x="971"/><use href="#a24" x="996"/><use href="#a26" x="1021"/><use href="#a19" x="1046"/></g>
<g transform="translate(.5 743.5)"><use href="#a34" x="46"/><use href="#a33" x="71"/><use href="#a32" x="96"/><use href="#a31" x="121"/><use href="#a30" x="146"/><use href="#a29" x="171"/><use href="#a29" x="196"/><use href="#a28" x="221"/><use href="#a28" x="246"/><use href="#a27" x="271"/><use href="#a27" x="296"/><use href="#a27" x="321"/><use href="#a27" x="346"/><use href="#a27" x="371"/><use href="#a27" x="396"/><use href="#a27" x="421"/><use href="#a27" x="446"/><use href="#a26" x="471"/><use href="#a25" x="496"/><use href="#a25" x="521"/><use href="#a24" x="546"/><use href="#a24" x="571"/><use href="#a24" x="596"/><use href="#a23" x="621"/><use href="#a23" x="646"/><use href="#a23" x="671"/><use href="#a24" x="696"/><use href="#a26" x="721"/><use href="#a26" x="746"/><use href="#a25" x="771"/><use href="#a25" x="796"/><use href="#a24" x="821"/><use href="#a23" x="846"/><use href="#a23" x="871"/><use href="#a22" x="896"/><use href="#a21" x="921"/><use href="#a20" x="946"/><use href="#a18" x="971"/><use href="#a18" x="996"/><use href="#a8" x="1046"/><path d="M1006 0H1033M1027 -4L1033 0L1027 4" fill="none" stroke="#1e1e1e" stroke-width="1.3"/></g>
<g transform="translate(.5 768.5)"><use href="#a33" x="46"/><use href="#a32" x="71"/><use href="#a30" x="96"/><use href="#a29" x="121"/><use href="#a29" x="146"/><use href="#a28" x="171"/><use href="#a28" x="196"/><use href="#a28" x="221"/><use href="#a27" x="246"/><use href="#a27" x="271"/><use href="#a27" x="296"/><use href="#a27" x="321"/><use href="#a27" x="346"/><use href="#a27" x="371"/><use href="#a27" x="396"/><use href="#a27" x="421"/><use href="#a27" x="446"/><use href="#a26" x="471"/><use href="#a26" x="496"/><use href="#a25" x="521"/><use href="#a25" x="546"/><use href="#a25" x="571"/><use href="#a25" x="596"/><use href="#a24" x="621"/><use href="#a24" x="646"/><use href="#a24" x="671"/><use href="#a25" x="696"/><use href="#a26" x="721"/><use href="#a26" x="746"/><use href="#a26" x="771"/><use href="#a25" x="796"/><use href="#a25" x="821"/><use href="#a24" x="846"/><use href="#a24" x="871"/><use href="#a23" x="896"/><use href="#a23" x="921"/><use href="#a24" x="946"/><use href="#a23" x="971"/><use href="#a9" x="996"/><use href="#a34" x="1021"/><use href="#a20" x="1046"/></g>
<g transform="translate(.5 793.5)"><use href="#a32" x="46"/><use href="#a30" x="71"/><use href="#a29" x="96"/><use href="#a29" x="121"/><use href="#a28" x="146"/><use href="#a28" x="171"/><use href="#a28" x="196"/><use href="#a27" x="221"/><use href="#a27" x="246"/><use href="#a27" x="271"/><use href="#a27" x="296"/><use href="#a27" x="321"/><use href="#a27" x="346"/><use href="#a27" x="371"/><use href="#a27" x="396"/><use href="#a27" x="421"/><use href="#a27" x="446"/><use href="#a26" x="471"/><use href="#a26" x="496"/><use href="#a26" x="521"/><use href="#a26" x="546"/><use href="#a26" x="571"/><use href="#a25" x="596"/><use href="#a25" x="621"/><use href="#a25" x="646"/><use href="#a25" x="671"/><use href="#a25" x="696"/><use href="#a26" x="721"/><use href="#a27" x="746"/><use href="#a26" x="771"/><use href="#a26" x="796"/><use href="#a26" x="821"/><use href="#a25" x="846"/><use href="#a25" x="871"/><use href="#a25" x="896"/><use href="#a25" x="921"/><use href="#a26" x="946"/><use href="#a25" x="971"/><use href="#a22" x="996"/><use href="#a25" x="1021"/><use href="#a28" x="1046"/></g>
</g>
<g id="obstacles">
<rect class="ob" x="109" y="181" width="25" height="25"/>
<rect class="ob" x="184" y="281" width="25" height="25"/>
<rect class="ob" x="159" y="481" width="25" height="25"/>
<rect class="ob" x="984" y="181" width="25" height="25"/>
<rect class="ob" x="509" y="156" width="25" height="75"/>
<rect class="ob" x="509" y="206" width="175" height="25"/>
<rect class="ob" x="584" y="581" width="150" height="25"/>
<rect class="ob" x="809" y="581" width="250" height="25"/>
</g>
<g id="goal"><rect x="534" y="181" width="25" height="25" fill="#000"/></g>
<g id="route">
<polyline class="rp" points="993,735 983,723 978,722 969,716 953,714 948,710 933,707 923,700 913,697 897,693 877,691 875,687 857,685 853,681 830,677 825,673 815,670 813,666 803,665 800,660 793,658 790,654 785,650 780,645 779,635 774,633 774,572 769,570 769,400 762,398 762,278 755,275 755,196 750,191 746,183 742,176 737,171 735,163 727,161 722,158 715,156 703,148 700,143 692,140 690,138 660,138 653,133 620,133 617,137 610,138 600,140 593,143 583,148 577,152 572,155 565,160 560,167 553,170 548,173 548,186"/>
<path class="rp" d="M546 163V186"/>
</g>
<g id="cursor"><path d="M772 785V804M773 794L787 787V805Z" fill="none" stroke="#333" stroke-width="1"/></g>
</svg>
